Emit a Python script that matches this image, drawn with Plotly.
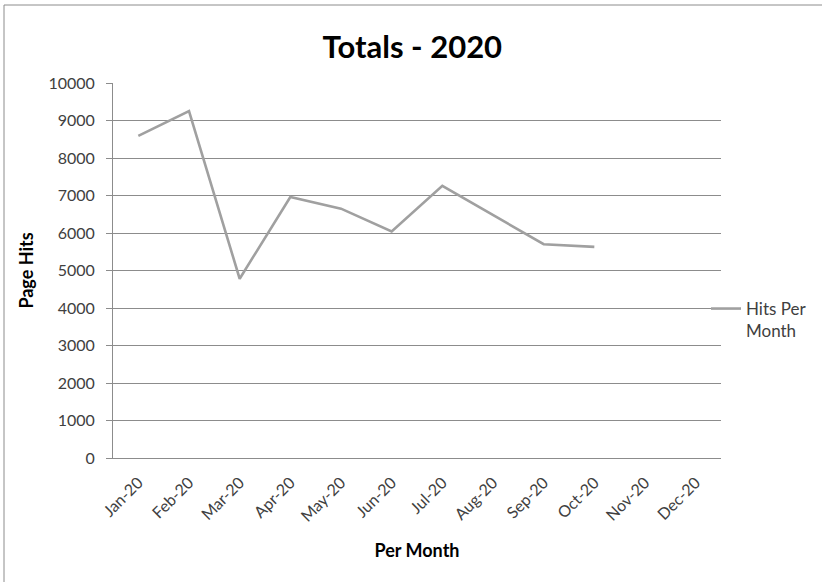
import plotly.graph_objects as go

months = ["Jan-20", "Feb-20", "Mar-20", "Apr-20", "May-20", "Jun-20",
          "Jul-20", "Aug-20", "Sep-20", "Oct-20", "Nov-20", "Dec-20"]
hits = [8590, 9250, 4780, 6960, 6650, 6040, 7260, 6480, 5700, 5630, None, None]
y_ticks = [0, 1000, 2000, 3000, 4000, 5000, 6000, 7000, 8000, 9000, 10000]

W, H = 822, 582
L, R, T, B = 113, 101, 83, 124
pw, ph = W - L - R, H - T - B

def px(x):
    return (x - L) / pw

def py(y):
    return (H - B - y) / ph

fig = go.Figure()
fig.add_trace(go.Scatter(
    x=months, y=hits, mode="lines", name="Hits Per<br>Month",
    line=dict(color="#a0a0a0", width=2.6),
    connectgaps=False,
))

font = "Lato, Open Sans, sans-serif"
fig.update_layout(
    width=W, height=H,
    margin=dict(l=L, r=R, t=T, b=B, autoexpand=False),
    paper_bgcolor="white", plot_bgcolor="white",
    font=dict(family=font, size=16, color="#404040"),
    title=dict(text="<b>Totals - 2020</b>", x=px(418), xanchor="center",
               y=1 - 47 / H, yanchor="middle",
               font=dict(family=font, size=31, color="#000000")),
    showlegend=True,
    legend=dict(x=px(706), xanchor="left", y=py(291), yanchor="top",
                valign="top", font=dict(family=font, size=17, color="#404040"),
                bgcolor="rgba(0,0,0,0)", borderwidth=0),
    xaxis=dict(
        type="category", categoryorder="array", categoryarray=months,
        range=[-0.5, 11.5], tickangle=-45, showgrid=False,
        showline=True, linecolor="#8c8c8c", linewidth=1,
        ticks="", tickfont=dict(size=16, color="#404040"),
        ticklabelstandoff=8,
        title=dict(text="<b>Per Month</b>", standoff=20,
                   font=dict(family=font, size=18, color="#000000")),
    ),
    yaxis=dict(
        range=[0, 10000], tickvals=y_ticks, ticktext=[str(v) for v in y_ticks],
        showgrid=True, gridcolor="#8c8c8c", gridwidth=1,
        showline=True, linecolor="#8c8c8c", linewidth=1,
        ticks="outside", ticklen=6, tickcolor="#8c8c8c",
        tickfont=dict(size=16, color="#404040"), zeroline=False,
        ticklabelstandoff=8,
        title=dict(text="<b>Page Hits</b>", standoff=10,
                   font=dict(family=font, size=18, color="#000000")),
    ),
    shapes=[
        dict(type="line", xref="paper", yref="paper",
             x0=px(4), x1=px(4), y0=py(5), y1=py(600),
             line=dict(color="#8c8c8c", width=1)),
        dict(type="line", xref="paper", yref="paper",
             x0=px(4), x1=px(840), y0=py(5), y1=py(5),
             line=dict(color="#8c8c8c", width=1)),
    ],
)

fig.write_html("out.html", config={"displayModeBar": False},
               post_script="document.body.style.margin='0';")
